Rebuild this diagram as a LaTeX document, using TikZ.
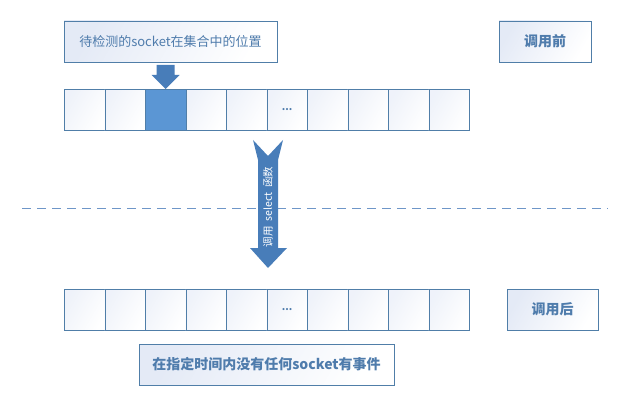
\documentclass[tikz,border=0pt]{standalone}
\usepackage{fontspec}
\newfontfamily\cjk{Noto Sans CJK SC}
\definecolor{edge}{RGB}{80,126,168}
\definecolor{txt}{RGB}{79,124,172}
\definecolor{cellblue}{RGB}{91,150,212}
\definecolor{arrowblue}{RGB}{72,125,185}
\definecolor{shadelight}{RGB}{228,234,246}
\definecolor{dashc}{RGB}{110,150,200}
\tikzset{
  cellbox/.style={draw=edge, line width=0.9pt, minimum width=40.5pt, minimum height=41pt, inner sep=0pt,
    left color=shadelight!60, right color=white, shading angle=60, anchor=north west},
  labelbox/.style={draw=edge, line width=0.9pt, inner sep=0pt, left color=shadelight, right color=white,
    shading angle=60, text=txt, font=\cjk\fontsize{14}{16}\selectfont\bfseries},
  dots/.style={text=txt, font=\cjk\bfseries\fontsize{10}{10}\selectfont},
}
\begin{document}
\begin{tikzpicture}[x=1pt,y=-1pt]
\useasboundingbox (0,0) rectangle (623,406);
% dashed separator
\coordinate (dl) at (22,208);
\coordinate (dr) at (608,208);
\draw[dashc, line width=0.9pt, dash pattern=on 9pt off 6pt] (dl) -- (dr);
% labels
\node[labelbox, minimum width=213pt, minimum height=41pt, font=\cjk\fontsize{13}{15}\selectfont] (toplab) at (170.5,41.5) {待检测的socket在集合中的位置};
\node[labelbox, minimum width=92pt, minimum height=41pt] (before) at (545,41.5) {调用前};
\node[labelbox, minimum width=91pt, minimum height=41pt] (after) at (552.5,309.5) {调用后};
\node[labelbox, minimum width=255pt, minimum height=41pt] (botlab) at (266.5,364.5) {在指定时间内没有任何socket有事件};
% rows
\foreach \i in {0,...,9}{
  \node[cellbox] (t\i) at ({64+40.5*\i},89) {};
  \node[cellbox] (b\i) at ({64+40.5*\i},289) {};
}
\node[draw=edge, line width=0.9pt, fill=cellblue, minimum width=40.5pt, minimum height=41pt, inner sep=0pt, anchor=north west] (sel) at (145,89) {};
\node[dots] at (t5.center) {...};
\node[dots] at (b5.center) {...};
% small down arrow
\fill[arrowblue] (sel.north) ++(-9,-24) -- ++(18,0) -- ++(0,10) -- ++(5,0) -- (sel.north) -- ++(-14,-14) -- ++(5,0) -- cycle;
% big down arrow (notched)
\coordinate (ba) at (268,140);
\fill[arrowblue] (ba) ++(-15,0) -- ++(15,16) -- ++(15,-16) -- ++(-5,20) -- ++(0,88) -- ++(9,0) -- ++(-19,20) coordinate (btip) -- ++(-18,-20) -- ++(8,0) -- ++(0,-88) -- cycle;
\node[rotate=90, text=white, font=\cjk\fontsize{10.5}{10.5}\selectfont] (calltxt) at (268,207) {调用\hspace{5pt}select\hspace{5pt}函数};
\end{tikzpicture}
\end{document}
